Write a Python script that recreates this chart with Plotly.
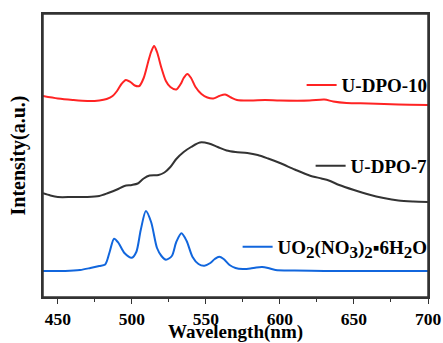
import plotly.graph_objects as go

# Wavelength (nm) and intensity (a.u., arbitrary offset units)
wl_red = [440, 450, 460, 470, 478, 483, 487, 490, 493, 496, 499, 502, 505, 508, 511, 513, 515, 517, 520, 523, 526,
          530, 533, 535, 537.5, 540, 543, 547, 551, 555, 559, 563, 567, 571, 580, 590, 600, 620, 630, 636, 645, 660, 680, 700]
int_red = [96, 98.5, 100, 101, 100.5, 99, 96, 91, 84, 80, 82, 85.5, 86, 78, 62, 52, 46, 52, 68, 81, 87,
           89.5, 84, 78, 74, 78, 87, 94, 97.5, 98.5, 96, 94.5, 97.5, 100, 100.5, 100, 100.5, 100.5, 99.5, 101.5, 103, 103.5, 104.5, 105]

wl_black = [440, 445, 450, 460, 470, 478, 484, 490, 495, 500, 504, 508, 512, 518, 522, 526, 530, 535, 540, 546, 552,
            558, 564, 570, 578, 585, 592, 600, 610, 620, 628, 633, 640, 650, 660, 670, 680, 690, 700]
int_black = [193.3, 195.5, 197, 197, 197, 196, 193, 189.5, 186, 185, 183.5, 178.5, 175.5, 175, 172.5, 167, 159, 152, 147, 142.5, 143.5,
             147, 150.5, 152, 153, 155, 158.5, 163, 169.5, 175.5, 178.5, 180.5, 185, 190, 194.5, 198, 200.5, 201.5, 202]

wl_blue = [440, 455, 465, 472, 478, 482, 485, 488, 491, 495, 500, 503, 506, 509.5, 513, 517, 520, 523, 527, 530, 533.5,
           537, 541, 545, 549, 553, 556, 559, 562, 566, 570, 575, 580, 584, 588, 592, 597, 610, 630, 660, 700]
int_blue = [271, 271, 270, 268, 266, 264.5, 252, 238.7, 243, 253, 257.7, 252, 230, 211, 222, 248, 256, 259.7, 256, 242, 233.3,
            241, 257, 264, 265.7, 263, 259, 256.7, 259, 265, 268, 269, 268.5, 267.5, 267, 268, 270, 270.5, 271, 271, 271]

SUB = "<sub><span style='font-size:17px'>{}</span></sub>"
names = ["<b>U-DPO-10</b>", "<b>U-DPO-7</b>",
         "<b>UO" + SUB.format("2") + "(NO" + SUB.format("3") + ")" + SUB.format("2")
         + "\u25aa6H" + SUB.format("2") + "O</b>"]
colors = ["#ff2323", "#333333", "#1166dd"]
tick_vals = [450, 500, 550, 600, 650, 700]
tick_text = ["<b>450</b>", "<b>500</b>", "<b>550</b>", "<b>600</b>", "<b>650</b>", "<b>700</b>"]
minor_vals = [475, 525, 575, 625, 675]

def val(px):
    return [300 - p for p in px]

FONT = "Liberation Serif"

fig = go.Figure()
series = [(wl_red, int_red), (wl_black, int_black), (wl_blue, int_blue)]
legends = ["legend", "legend2", "legend3"]
for (x, y), n, c, lg in zip(series, names, colors, legends):
    fig.add_trace(go.Scatter(x=x, y=val(y), mode="lines", name=n, legend=lg, showlegend=True,
                             line=dict(color=c, width=2, shape="spline", smoothing=0.8)))

def leg(yv):
    return dict(x=1.012, xanchor="right", y=yv, yanchor="middle", bgcolor="rgba(0,0,0,0)",
                font=dict(family=FONT, size=19, color="black"))

fig.update_layout(
    showlegend=True,
    legend=leg(0.749),
    legend2=leg(0.4629),
    legend3=leg(0.1767),
    width=443, height=343,
    margin=dict(l=43, r=15, t=14, b=46, autoexpand=False),
    paper_bgcolor="white", plot_bgcolor="white",
    font=dict(family=FONT, color="black"),
    shapes=[dict(type="rect", xref="paper", yref="paper", x0=0, x1=1, y0=0, y1=1,
                 line=dict(color="#333333", width=1.5), layer="above")],
)
fig.update_xaxes(range=[440, 700], tickvals=tick_vals, ticktext=tick_text, automargin=False,
                 ticks="outside", ticklen=5, tickwidth=1.2, tickcolor="#333",
                 minor=dict(tickvals=minor_vals, ticks="outside", ticklen=3, tickcolor="#333"),
                 showline=True, linecolor="#333", linewidth=1.5, mirror=True, showgrid=False, zeroline=False,
                 tickfont=dict(family=FONT, size=17.5, color="black"),
                 title=dict(text="<b>Wavelength(nm)</b>", font=dict(family=FONT, size=19, color="black"), standoff=7))
fig.update_yaxes(range=[3, 286], showticklabels=False, ticks="", automargin=False,
                 showline=True, linecolor="#333", linewidth=1.5, mirror=True, showgrid=False, zeroline=False,
                 title=dict(text="<b>Intensity(a.u.)</b>", font=dict(family=FONT, size=20, color="black"), standoff=10))

fig.write_html("out.html", config={"displayModeBar": False},
               post_script="document.body.style.margin='0';document.body.style.overflow='hidden';")
